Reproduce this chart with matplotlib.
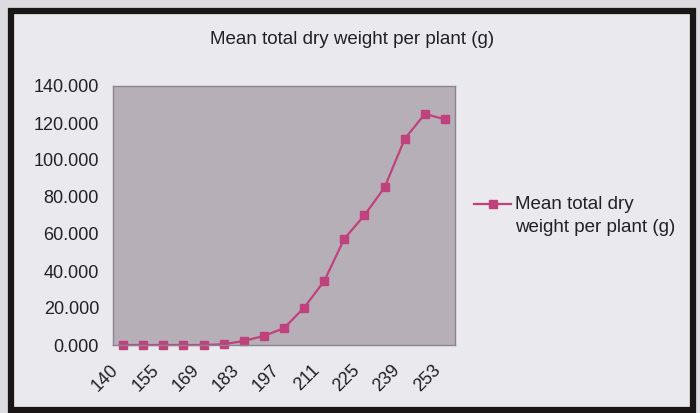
import matplotlib.pyplot as plt
import matplotlib.transforms as mtransforms
from matplotlib.patches import Rectangle

# days after sowing and mean total dry weight per plant (g)
days = [140, 147, 155, 162, 169, 176, 183, 190, 197, 204, 211, 218, 225, 232, 239, 246, 253]
dry_weight = [0, 0, 0, 0, 0, 0.4, 2.2, 4.9, 9.1, 20.2, 34.6, 57.5, 70.1, 85.2, 111.4, 124.9, 122.0]
yticks = [0, 20, 40, 60, 80, 100, 120, 140]
title = 'Mean total dry weight per plant (g)'

plt.rcParams['font.family'] = ['Liberation Sans', 'DejaVu Sans']

fig = plt.figure(figsize=(7, 4.13), dpi=100)
fig.patch.set_facecolor('#dcdce0')

# chart frame, behind the axes
frame = Rectangle((11 / 700, 3 / 413), 682 / 700, 399 / 413, transform=fig.transFigure,
                  facecolor='#e9e9ee', edgecolor='#1a1616', linewidth=4.5, zorder=-1)
fig.patches.append(frame)

ax = fig.add_axes([113 / 700, 1 - 345 / 413, 342 / 700, 259 / 413])
ax.set_facecolor('#b7afb7')
for s in ax.spines.values():
    s.set_color('#8a8590')
    s.set_linewidth(1)

x = list(range(len(days)))
ax.plot(x, dry_weight, color='#c0427c', linewidth=1.6, marker='s', markersize=6,
        label='Mean total dry\nweight per plant (g)', clip_on=False)

ax.set_xlim(-0.5, len(days) - 0.5)
ax.set_ylim(0, 140)
ax.set_yticks(yticks)
ax.set_yticklabels(['%.3f' % v for v in yticks])
ax.set_xticks(x[::2])
ax.set_xticklabels([str(d) for d in days[::2]], rotation=45, ha='right', va='top',
                   rotation_mode='anchor')
ax.tick_params(length=0, labelsize=13, colors='#222222')
ax.tick_params(axis='y', pad=10)
ax.tick_params(axis='x', pad=12)

# excel puts the slanted labels a little to the left of the category
shift = mtransforms.ScaledTranslation(-13 / 100, 0, fig.dpi_scale_trans)
for lab in ax.get_xticklabels():
    lab.set_transform(lab.get_transform() + shift)

fig.text(352 / 700, 1 - 40 / 413, title, ha='center', va='center', fontsize=13.5, color='#222222')

leg = fig.legend(loc='center left', bbox_to_anchor=(457 / 700, 1 - 216 / 413), frameon=False,
                 fontsize=13.5, handlelength=2.0, handletextpad=0.2, labelcolor='#222222')
for t in leg.get_texts():
    t.set_linespacing(1.4)
# put the key level with the first line of the label
for h in leg.legend_handles:
    h.set_ydata([y + 8.3 for y in h.get_ydata()])

fig.savefig('out.png', dpi=100)
